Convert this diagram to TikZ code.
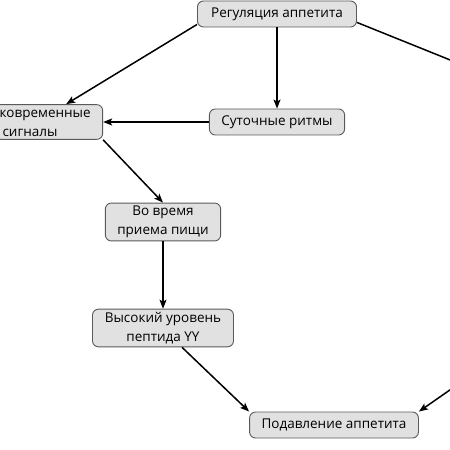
\documentclass[tikz,border=0pt]{standalone}
\usepackage{fontspec}
\setmainfont{Open Sans}
\usepackage{tikz}
\usetikzlibrary{positioning,arrows.meta}
\definecolor{boxfill}{HTML}{E1E1E1}
\definecolor{boxline}{HTML}{5A5A5A}

\begin{document}
\begin{tikzpicture}[x=1bp,y=-1bp,>={Stealth[length=9bp,width=7bp,inset=2bp]},
  box/.style={draw=boxline,fill=boxfill,line width=0.9bp,rounded corners=6bp,
    minimum height=26bp,inner xsep=12bp,inner ysep=3bp,align=center,
    font=\fontsize{13.5bp}{19bp}\selectfont},
  link/.style={->,line width=1.5bp}]
\path[use as bounding box] (0,0) rectangle (450,450);
\clip (0,0) rectangle (450,450);
\node[box,minimum width=159bp] (reg) at (277,14) {Регуляция аппетита};
\node[box,minimum width=140bp] (short) at (30,122) {Кратковременные\\сигналы};
\node[box,minimum width=135bp] (sut) at (277,122) {Суточные ритмы};
\node[box,minimum width=111bp] (meal) at (163,222) {Во время\\приема пищи};
\node[box,minimum width=141bp] (pyy) at (163,328) {Высокий уровень\\пептида YY};
\node[box,minimum width=168bp] (supp) at (334,425) {Подавление аппетита};
\coordinate (offtop) at (480,72);
\coordinate (offbot) at (480,369);
\draw[link] ([yshift=3bp]reg.south west) -- ([xshift=-37bp]short.north east);
\draw[link] (reg.south) -- (sut.north);
\draw[link] (sut.west) -- (short.east);
\draw[link] (short.south east) -- (meal.north);
\draw[link] (meal.south) -- (pyy.north);
\draw[link] ([xshift=19bp]pyy.south) -- (supp.north west);
\draw[line width=1.5bp] ([yshift=5bp]reg.south east) -- (offtop);
\draw[link] (offbot) -- (supp.north east);
\end{tikzpicture}
\end{document}
